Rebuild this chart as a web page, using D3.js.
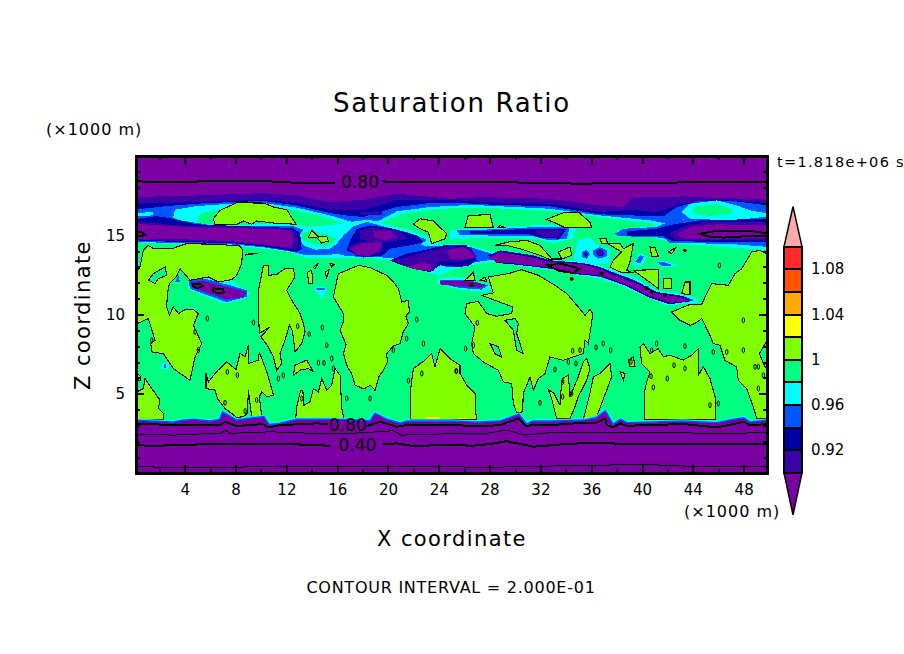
<!DOCTYPE html>
<html><head><meta charset="UTF-8"><title>Saturation Ratio</title>
<script src="https://d3js.org/d3.v7.min.js"></script>
<style>
body { margin: 0; background: #fff; }
text { font-family: "DejaVu Sans", sans-serif; fill: #000; }
.area { shape-rendering: crispEdges; }
.lime { fill: #80ff00; stroke: #000; stroke-width: 1.1; shape-rendering: crispEdges; }
.hole { fill: #00ff80; stroke: #000; stroke-width: 1.1; shape-rendering: crispEdges; }
.contour { fill: none; stroke: #000; shape-rendering: crispEdges; }
.axis path, .axis line { stroke: #000; shape-rendering: crispEdges; }
.axis .domain { stroke-width: 2.5; }
.axis line { stroke-width: 2; }
.axis .minor line { stroke-width: 1.2; }
.axis text { font-size: 15px; }
</style></head>
<body><div id="chart"></div>
<script>
// colour table of the contour levels
const levels = [0.90, 0.92, 0.94, 0.96, 0.98, 1.00, 1.02, 1.04, 1.06, 1.08, 1.10];
const levelColors = ["#3b00a8", "#0000a8", "#0055ff", "#00ffff", "#00ff80", "#80ff00", "#ffff00", "#ffaa00", "#ff5500", "#ff2a2a"];
const underColor = "#7b00a3", overColor = "#ffaaaa";
const colorLabels = [0.92, 0.96, 1, 1.04, 1.08];
const xTicks = [4, 8, 12, 16, 20, 24, 28, 32, 36, 40, 44, 48];
const xMinor = [2, 6, 10, 14, 18, 22, 26, 30, 34, 38, 42, 46];
const zTicks = [5, 10, 15];
const zMinor = [1, 2, 3, 4, 6, 7, 8, 9, 11, 12, 13, 14, 16, 17, 18, 19];

// top edges (x km, z km) of the levels in the upper cloud layer
const top090 = [[0,17.41],[4.94,17.51],[10.19,17.66],[12.81,17.51],[15.44,17.09],[18.06,17.24],[20.69,17.62],[24.88,17.3],[27.5,17.41],[32.75,17.3],[36.7,16.88],[38.5,16.78],[39.3,17.37],[43.25,17.45],[50,17.24]];
const top092 = [[0,16.99],[4.94,17.09],[10.19,17.24],[12.81,17.03],[15.44,16.61],[18.06,16.61],[20.69,17.2],[25.67,17.2],[27.5,17.09],[32.75,16.99],[36.69,16.46],[39.32,16.61],[41.15,16.46],[43.25,16.99],[45.88,17.24],[50,17.03]];
const top094 = [[0,16.61],[2.31,16.82],[4.94,16.99],[7.56,17.09],[10.19,17.16],[12.81,16.88],[15.44,16.4],[16.75,16.25],[18.06,16.15],[20.69,16.78],[23.31,17.03],[25.67,17.03],[27.5,16.95],[32.75,16.82],[36.69,16.32],[39.32,16.25],[41.68,16.19],[42.73,16.78],[44.56,17.16],[47.19,17.16],[50,16.88]];
const top096 = [[0,15.31],[2.84,15.31],[3.23,16.61],[4.94,16.84],[7.56,16.99],[10.19,17.03],[12.81,16.74],[15.44,16.25],[16.99,15.88],[18.06,15.69],[19.38,15.94],[20.69,16.51],[23.31,16.78],[25.67,16.88],[27.5,16.88],[32.75,16.67],[36.69,16.25],[40.63,15.94],[42.2,15.69],[43,15.62],[43.25,14.68],[50,14.26]];
const top098 = [[0,15],[4.6,15],[5.2,16.36],[7.56,16.82],[10.19,16.88],[12.81,16.57],[15.44,16.04],[16.75,15.62],[18.06,15.31],[20.2,16.04],[21.2,16.36],[23.31,16.61],[25.67,16.74],[27.5,16.74],[32.75,16.53],[36.69,16.15],[40.63,15.77],[42.2,15.48],[42.73,14.47],[50,14.05]];

// low-value bands cutting through the cloud, one list per level
const band096 = [
  [[2.84,16.15],[4.41,15.77],[7.56,15.6],[10.19,15.73],[12.81,15.69],[13.6,15.52],[15.96,15.69],[17.54,15.9],[18.59,15.98],[19.51,15.73],[21.74,15.31],[22.79,14.99],[23.31,14.85],[24.36,14.36],[24.88,14.47],[26.45,14.36],[28.29,13.94],[30.92,13.63],[32.75,13.46],[35.38,13.31],[36.69,13.1],[37.48,12.89],[39.32,12.37],[41.15,11.53],[43.25,11.27],[44.43,11],[44.43,10.73],[41.94,10.58],[40.37,11.11],[38.53,11.74],[36.69,12.26],[35.12,12.47],[32.75,12.83],[30.13,13.1],[28.29,13.31],[26.45,13.1],[24.88,12.79],[24.1,12.47],[23.31,12.62],[20.69,13.25],[19.38,13.52],[16.75,13.59],[13.6,13.59],[12.29,13.94],[10.19,14.15],[7.56,14.36],[3.63,14.43],[0,14.57],[0,16]],
  [[24.88,15.31],[27.5,15.52],[31.44,15.62],[34.85,15.62],[34.59,14.78],[33.02,14.51],[31.7,14.78],[27.5,14.85],[24.88,14.72]],
  [[34.98,14.68],[35.9,14.85],[36.69,14.26],[37.48,14.15],[37.43,13.21],[35.9,13.1],[34.59,13.42]],
  [[43.12,16.46],[43.78,16.99],[45.88,17.2],[47.45,16.88],[48.5,16.57],[50,16.36],[50,16.04],[47.19,15.98],[43.78,16.04]],
  [[38,15.31],[40.63,15.56],[42.2,15.83],[43.25,16],[45.88,16.15],[50,16.25],[50,14.57],[43.25,14.57],[41.68,14.68],[40.63,14.93],[38,14.99]],
  [[23.83,12.26],[25.67,12.37],[28.29,11.74],[27.77,11.42],[25.67,11.57],[23.83,11.95]],
  [[4.28,12.26],[5.6,12.41],[7.56,12.26],[8.22,11.84],[9.14,11.32],[8.61,10.9],[7.17,10.69],[5.86,11.06],[4.28,11.63]],
  [[14.13,11.74],[15.05,11.74],[15.18,11.53],[14.78,11.11],[15.7,11.11],[14.78,11],[14.39,11.32]],
  [[39.2,13.1],[39.84,13.85],[40.4,13.67],[40,13.05]],
  [[41,13.4],[41.68,13.4],[42.9,13.06],[41.55,12.98]],
  [[2.15,6.95],[2.75,6.95],[2.75,6.55],[2.15,6.55]],
  [[0,16.35],[1.5,16.5],[1.5,16.25],[0,16.2]]
];
const greenLens = [
  [[43.91,16.57],[44.3,16.82],[45.88,16.95],[47.19,16.61],[46.93,16.32],[45.35,16.21],[44.3,16.32]],
  [[13.08,15.1],[13.86,15.31],[15.44,14.99],[15.96,14.78],[15.44,14.36],[14.39,14.36],[13.34,14.68]]
];
const band094 = [
  [[0,16.15],[2.31,16.32],[3.63,15.94],[6.25,15.62],[7.56,15.48],[10.19,15.6],[12.55,15.56],[13.34,15.35],[12.94,14.89],[13.34,14.36],[14.26,14.09],[15.44,14.15],[15.96,14.47],[16.49,14.99],[17.28,15.56],[18.33,15.85],[19.38,15.62],[21.74,15.14],[23.05,14.72],[22.53,14.36],[24.88,14.3],[26.45,14.26],[28.29,13.8],[30.92,13.48],[32.75,13.31],[35.38,13.21],[36.69,13],[37.48,12.74],[39.32,12.2],[41.15,11.36],[43.25,11.15],[44.17,10.9],[41.94,10.69],[40.37,11.23],[38.53,11.88],[36.69,12.37],[35.12,12.58],[32.75,12.96],[30.13,13.21],[28.29,13.46],[26.45,13.25],[24.88,12.96],[24.1,13.1],[23.31,12.89],[20.69,13.52],[19.11,13.63],[16.75,13.67],[15.96,13.84],[15.18,13.73],[13.6,13.73],[12.29,13.98],[10.19,14.24],[7.56,14.43],[3.63,14.49],[0,14.59]],
  [[25.4,15.31],[27.5,15.35],[31.7,15.52],[34.33,15.56],[34.07,14.78],[32.75,14.68],[31.44,14.93],[27.5,14.99],[25.67,14.99]],
  [[37.87,15.1],[38.53,15.41],[41.15,15.52],[42.2,15.88],[43.78,16.04],[47.19,15.94],[50,16.19],[50,14.43],[45.88,14.47],[42.2,14.51],[41.68,14.85],[39.58,14.89],[38,14.99]],
  [[24.09,12.2],[26.2,12.2],[27.9,11.84],[27.37,11.57],[25.67,11.67],[24.09,11.95]],
  [[4.28,12.16],[5.6,12.26],[7.56,11.84],[8.88,11.53],[8.88,11.11],[7.3,10.79],[5.99,11.15],[4.41,11.63]],
  [[35.25,13.94],[35.64,14.09],[35.9,13.8],[35.64,13.52],[35.25,13.63]],
  [[36.17,14.05],[36.69,14.26],[37.22,14.05],[37.22,13.67],[36.56,13.52],[36.17,13.73]],
  [[39.45,13.31],[39.84,13.73],[40.16,13.67],[39.84,13.21]],
  [[41.15,13.31],[41.68,13.31],[42.47,13.1],[41.55,13.06]],
  [[14.26,11.7],[15.05,11.7],[15.05,11.57],[14.39,11.57]],
  [[3.23,12.05],[3.5,12.47],[3.63,12.05]],
  [[2.35,6.9],[2.55,6.9],[2.55,6.65],[2.35,6.65]]
];
const band092 = [
  [[0,16],[1.79,16.21],[3.1,16.04],[4.94,15.69],[10.19,15.52],[12.55,15.46],[13.08,15.1],[13.21,14.15],[12.81,13.94],[10.19,14.3],[7.56,14.51],[3.63,14.57],[0,14.68]],
  [[17.54,15.41],[18.59,15.62],[20.42,15.41],[22.26,14.99],[22.79,14.57],[21.74,14.36],[20.16,14.15],[19.64,13.73],[18.06,13.59],[16.75,14.05],[17.01,14.68]],
  [[20.16,13.42],[21.47,13.84],[22.79,14.05],[24.36,14.36],[26.2,14.36],[27,13.42],[26.45,13.1],[25.67,13],[24.1,13.1],[23.31,12.68],[22,12.89],[20.69,13.21]],
  [[27.9,13.73],[28.82,14.05],[31.44,13.73],[32.75,13.42],[35.38,13.25],[36.69,13],[37.48,12.74],[39.58,12.09],[41.15,11.42],[43.25,11.17],[43.91,10.85],[42.2,10.64],[40.63,11.04],[38.79,11.78],[36.69,12.41],[35.12,12.51],[32.75,12.89],[30.13,13.14],[28.55,13.25]],
  [[26.45,15.24],[31.44,15.41],[34.07,15.41],[33.54,14.78],[31.97,14.85],[30.92,15.1],[26.45,15.06]],
  [[38.79,15.24],[41.15,15.41],[42.47,15.69],[44.56,15.94],[50,16.04],[50,14.57],[45.88,14.57],[42.33,14.64],[41.68,14.93],[38.79,14.93]]
];
const band090 = [
  [[17.8,16.46],[19.5,16.46],[19.5,16.25],[17.9,16.25]],
  [[0,15.88],[3.63,15.62],[7.56,15.56],[12.03,15.46],[12.81,15.2],[12.94,14.36],[12.68,14.09],[10.19,14.36],[7.56,14.57],[3.63,14.63],[0,14.72]],
  [[17.8,15.31],[18.85,15.48],[20.95,15.27],[21.47,14.78],[20.16,14.57],[19.11,14.47],[17.8,14.78]],
  [[16.75,14.26],[17.8,14.57],[19.64,14.63],[19.64,14.05],[18.59,13.67],[17.54,13.67]],
  [[20.42,13.38],[22,13.73],[23.31,14.05],[24.88,14.3],[26.45,14.26],[27,13.63],[25.67,13.31],[24.1,13.38],[23.57,12.74],[22,12.96]],
  [[31.57,15.35],[33.8,15.35],[33.28,14.85],[32.36,14.89],[31.7,15.1]],
  [[42.33,15.2],[43.78,15.69],[45.88,15.83],[50,15.83],[50,14.68],[45.35,14.68],[42.73,14.68],[42.2,14.99]],
  [[36.35,13.94],[36.69,14.13],[37.03,13.94],[36.95,13.73],[36.56,13.67]],
  [[35.4,13.85],[35.6,13.95],[35.75,13.8],[35.55,13.65]]
];
const bandUnder = [
  [[0,15.73],[4.94,15.48],[10.19,15.41],[12.03,15.35],[12.55,15.1],[12.55,14.57],[12.29,14.22],[10.19,14.4],[7.56,14.63],[4.94,14.72],[2.31,14.78],[1,14.72],[0,14.78]],
  [[18.85,15.24],[20.16,15.31],[20.69,14.85],[19.64,14.68],[18.98,14.85]],
  [[17.01,14.15],[18.06,14.51],[19.51,14.57],[19.38,14.05],[18.59,13.71],[17.54,13.73]],
  [[21.47,13],[22.79,13.31],[23.44,13.1],[23.31,12.74],[22.26,12.83]],
  [[24.62,14.05],[25.94,14.26],[27,13.63],[25.94,13.46],[24.88,13.52]],
  [[27.9,13.59],[28.82,13.94],[31.44,13.59],[32.75,13.31],[35.38,13.17],[36.69,12.89],[37.48,12.58],[39.58,11.95],[41.15,11.32],[43.25,11.06],[43.78,10.85],[42.2,10.73],[40.63,11.15],[38.79,11.88],[36.69,12.47],[35.12,12.58],[32.75,12.96],[30.13,13.21],[28.55,13.31]],
  [[42.73,15.1],[44.04,15.56],[45.88,15.69],[50,15.62],[50,14.85],[45.88,14.78],[43.25,14.78]],
  [[24.09,12.11],[26.2,12.11],[27.64,11.9],[27.24,11.69],[25.67,11.78],[24.09,11.9]],
  [[4.41,12.05],[5.46,12.11],[7.3,11.74],[8.88,11.42],[8.61,11.11],[7.3,10.94],[5.99,11.32],[4.68,11.69]]
];

// supersaturated cells, contour 1.00
const above100 = [
  [[6.25,16.04],[6.78,16.57],[8.09,17.05],[10.19,17.03],[10.98,16.78],[12.03,16.61],[12.76,15.69],[10.98,15.77],[9.66,15.9],[9.27,15.69],[8.61,15.9],[8.09,15.69],[6.38,15.69]],
  [[22,15.69],[22.53,16.04],[23.57,15.9],[24.62,15.1],[24.49,14.78],[23.44,14.47],[23.18,15.2],[22.53,15.41]],
  [[13.73,14.85],[14,15.31],[14.52,14.89],[15.18,14.93],[15.31,14.64],[14.78,14.51],[14.39,14.85]],
  [[0,12.47],[0.48,13],[0.74,14.05],[1.13,14.36],[1.53,14.15],[2.97,14.15],[4.15,14.47],[6.51,14.43],[8.35,14.32],[8.56,14.05],[8.48,13.21],[8.09,12.47],[7.7,12.2],[6.65,12.05],[5.86,12.37],[4.41,12.16],[4.02,12.53],[3.63,12.89],[3.36,12.41],[2.79,11.95],[2.63,11.32],[2.58,10.48],[2.79,9.95],[3.1,10.48],[3.5,10.06],[4.02,10.31],[4.68,10.31],[5.07,10.06],[4.68,9.32],[5.33,8.17],[4.81,7.32],[4.41,5.85],[3.1,6.59],[2.31,7.53],[1.4,7.64],[1.32,8.17],[1.66,8.38],[1.13,9.74],[0.27,9.43],[0,9.53]],
  [[0,5.02],[0.74,5.33],[0.87,5.96],[1.4,5.33],[2.05,4.6],[1.92,4.07],[2.31,3.76],[2.31,3.38],[0,3.38]],
  [[0,6.5],[0.5,6.1],[0.5,5.85],[0,5.9]],
  [[5.67,6.28],[5.86,5.75],[6.57,6.45],[7.3,7.01],[8.04,6.53],[8.35,7.54],[8.75,7.33],[9.01,8.06],[9.01,6.91],[9.8,7.12],[9.87,7.64],[10.5,6.28],[10.98,4.91],[10.45,4.81],[10.06,5.12],[9.87,4.81],[10.06,3.59],[9.27,3.55],[9.01,5.23],[8.93,3.76],[8.61,3.55],[8.09,3.51],[7.17,4.07],[6.57,4.7],[6.38,5.23],[5.67,5.33]],
  [[9.8,11.53],[10.19,13.1],[10.58,13.1],[10.58,12.47],[11.24,12.53],[11.89,12.89],[12.55,12.89],[12.68,12.37],[12.03,11.53],[12.42,10.9],[13.08,10.06],[13.34,9.43],[13.47,8.9],[13.21,8.17],[12.68,7.64],[12.47,9],[12.24,9.32],[11.89,8.38],[11.5,7.53],[11.63,6.9],[11.24,6.48],[10.98,7.32],[10.5,8.06],[9.98,8.59],[10.71,9.22],[9.87,8.8],[9.8,10.27]],
  [[12.73,3.38],[12.81,4.18],[13.13,5.23],[13.29,5.23],[13.39,4.28],[13.86,4.49],[14.13,5.33],[14.52,5.12],[14.78,5.96],[15.18,5.23],[15.57,5.54],[15.83,6.59],[16.23,6.17],[16.36,4.07],[16.54,3.38]],
  [[12.55,6.17],[12.68,6.8],[13.6,7.12],[14.13,6.38],[13.73,6.59],[13.08,6.49],[12.76,6.28]],
  [[15.7,11.11],[16.09,12.58],[16.75,12.79],[17.67,13.1],[18.59,12.96],[19.9,12.47],[20.42,12.05],[20.82,11.63],[21.08,10.79],[21.61,10.9],[21.68,10.16],[21.4,9.9],[21.61,9.43],[21.2,8.9],[20.95,8.17],[20.4,8],[19.9,7.53],[19.95,7],[19.64,6.48],[19.3,6.1],[18.98,5.22],[18.59,5.54],[18.1,5.3],[17.41,5.54],[17.14,6.27],[16.8,6.7],[16.49,7.53],[16.7,8.1],[16.23,9],[16.5,9.6],[16.49,10.06],[16.17,10.48]],
  [[21.74,3.38],[21.74,5.02],[22,6.59],[22.92,7.12],[23.44,7.54],[23.7,6.7],[24.1,7.85],[24.49,7.54],[24.88,7.22],[25.67,6.8],[25.67,6.28],[26.2,5.54],[26.86,5.02],[26.86,4.07],[26.99,3.38]],
  [[26.06,10.06],[26.19,10.69],[27.11,10.83],[27.77,10.06],[28.55,9.89],[29.74,10.06],[29.81,10.48],[27.37,11.21],[28.29,11.36],[27.9,12.37],[29.47,12.58],[30.52,12.83],[31.84,12.47],[33.15,11.84],[34.07,11.32],[34.98,10.48],[35.51,9.95],[35.9,10.31],[36.11,10.06],[36.03,9.43],[35.77,8.17],[35.51,8.38],[35.38,7.53],[33.8,7.11],[32.75,7.32],[32.36,6.27],[31.84,5.96],[31.44,5.22],[31.18,6.06],[30.65,5.01],[30.6,3.86],[30.13,3.8],[29.87,4.38],[29.74,5.64],[29.08,5.75],[28.69,6.48],[27.5,7.01],[26.72,7.53],[26.59,8.17],[26.85,9.22]],
  [[42.33,10.16],[43.78,10.64],[44.7,10.64],[45.09,11.32],[45.48,11.95],[46.8,11.84],[47.32,12.58],[47.85,12.89],[48.63,13.94],[49.29,14.05],[50,13.73],[50,8.59],[49.24,7.53],[49.68,6.69],[50,6.69],[50,3.44],[49.03,3.44],[48.76,4.17],[48.24,5.33],[47.58,5.85],[47.45,6.69],[46.53,7.11],[46.14,8.06],[45.61,8.17],[45.35,8.69],[44.7,9.74],[44.17,9.43],[43.78,9.32],[42.99,9.64]],
  [[40.23,3.38],[40.23,5.23],[40.37,5.75],[40.63,6.38],[39.97,6.91],[39.84,7.96],[40.1,8.17],[40.63,7.54],[41.28,7.85],[41.68,7.33],[42.2,7.43],[43.25,7.12],[43.91,7.43],[44.43,7.85],[44.43,6.17],[44.83,6.7],[45.35,5.96],[45.75,4.81],[45.75,3.38]],
  [[38.27,6.38],[38.66,6.28],[38.53,5.86]],
  [[38.92,7.12],[39.32,7.33],[39.45,6.7],[39.05,6.7]],
  [[33.28,3.44],[32.88,4.7],[32.62,5.27],[33.07,5.02],[33.54,4.28],[33.62,5.23],[33.75,5.96],[34.2,6.17],[34.33,4.81],[34.98,6.07],[35.38,7.01],[35.64,7.22],[35.9,6.59],[35.64,5.86],[34.98,4.81],[34.72,4.18],[34.33,3.44]],
  [[35.38,3.38],[35.9,5.02],[36.17,6.07],[36.69,6.28],[37.48,6.91],[37.61,6.07],[37.22,5.23],[36.43,3.55]],
  [[26.06,15.48],[26.32,16.25],[28.03,16.3],[28.29,15.48]],
  [[28.63,15.48],[28.82,15.6],[29.26,15.48]],
  [[32.49,16],[33.94,16.46],[34.98,16.46],[35.9,15.83],[36.03,15.48],[33.94,15.48],[33.02,15.83]],
  [[28.42,14.36],[29.47,14.57],[30.92,14.68],[31.97,14.36],[32.89,13.52],[33.67,13.52],[33.41,13.94],[34.33,14.26],[34.46,13.73],[33.54,13.46],[32.75,13.46],[31.97,13.73],[30.39,14.15],[29.34,14.36]],
  [[36.69,14.78],[37.22,14.78],[37.27,14.47],[36.82,14.51]],
  [[37.22,14.51],[38.27,14.47],[38.53,14.15],[39.32,14.47],[39.05,13.31],[38.79,12.79],[39.32,12.62],[38.27,12.68],[37.48,13],[37.74,13.42],[38.4,13.94]],
  [[39.32,12.79],[41.28,12.83],[41.28,11.63],[40.76,11.95]],
  [[40.63,14.26],[41.02,14.22],[41.28,13.67],[40.76,13.67]],
  [[42.07,13.94],[42.73,14.26],[42.33,13.84]],
  [[43.25,14.11],[43.52,14.05],[43.38,13.94]],
  [[41.68,12.26],[42.33,12.26],[42.33,11.63],[41.68,11.63]],
  [[43.12,11.32],[43.38,12.05],[43.78,12.05],[43.78,11.25]],
  [[26.06,12.16],[26.72,12.68],[26.85,12.16]],
  [[27.24,12.16],[27.64,12.37],[27.77,12.09]],
  [[14.13,12.96],[14.52,13.25],[14.26,12.89]],
  [[15.44,13.21],[15.78,13.17],[15.57,13]],
  [[15.05,12.68],[15.36,12.83],[15.18,12.3]],
  [[13.68,12.68],[14,12.79],[14.07,11.95],[13.73,11.95]],
  [[8.75,13.8],[9.8,13.87],[8.75,13.75]]
];
const below100 = [
  [[1.13,12.16],[1.53,12.58],[2.45,13],[2.58,12.47],[1.92,12.26],[1.66,11.95]],
  [[29.21,9.64],[30,9.74],[30.26,9.43],[30.13,8.8],[30.39,8.17],[30.65,7.53],[30.13,7.75],[29.87,9]],
  [[28.03,8.17],[28.69,7.96],[28.95,7.32],[28.42,7.53]]
];
// very small closed 1.00 contours
const specks = [[5.78,9.75],[4.81,8.9],[9.4,9.49],[12.89,9.26],[13.79,8.76],[14.83,9.18],[15.18,8.06],[14.52,6.95],[14.97,6.95],[15.57,7.22],[15.7,6.59],[16.75,4.7],[18.59,4.7],[7.17,4.43],[8.75,3.9],[9.66,4.6],[20.42,7.75],[21.47,8.48],[22.79,8.17],[22.26,9.68],[22.66,6.28],[25.36,6.43],[21.61,5.82],[7.35,6.38],[8.14,6.17],[11.76,6.17],[11.37,5.96],[13.21,4.7],[5.07,7.75],[1.4,8.38],[27.03,9.47],[25.4,6.43],[26.72,8.06],[26.11,7.85],[34.54,7.71],[35.12,7.75],[36.38,7.92],[37.53,7.75],[36.95,8.17],[34.2,7.01],[34.8,6.91],[33.15,6.53],[33.75,5.75],[33.75,4.81],[34.46,5.02],[40.76,7.75],[41.15,8.17],[43.38,8],[45.61,7.64],[47.98,7.75],[46.67,7.64],[49.16,6.7],[48.9,6.7],[49.55,6.17],[49.16,5.33],[40.89,5.4],[45.35,4.28],[46.01,4.39],[31.97,4.43],[40.71,6.11],[41.99,5.96],[42.52,6.8],[43.38,6.6],[39.13,7.01],[46.09,13.1],[47.98,9.64]];
const yellowPatches = [[[22.92,3.4],[24.1,3.4],[24.1,3.52],[22.92,3.52]],[[25.5,3.38],[26.2,3.38],[26.2,3.48],[25.5,3.48]]];

// ground-side edge of the dry layer
const surface = [[0,3.29],[3.1,3.17],[3.9,3.29],[4.7,3.34],[6,3.23],[6.8,3.34],[7,3.8],[7.6,3.51],[8.1,3.29],[9.4,3.44],[10.2,3.51],[10.6,3.02],[11.5,3.09],[12.8,3.34],[15.4,3.34],[17.8,3.29],[18.6,3.23],[19,3.71],[19.9,3.34],[21,3.09],[21.5,3.23],[24.9,3.23],[27,3.17],[28.8,3.23],[30.3,3.65],[30.9,3.02],[31.4,3.23],[32.8,3.23],[35.4,3.29],[36.4,3.44],[37.1,3.86],[37.7,3.02],[38.3,3.34],[38.8,3.13],[43.25,3.23],[45.9,3.13],[47.2,3.34],[48,3.44],[48.5,3.17],[50,3.29]];

// line contours, null is a gap for the label
const line08Top = [[0,18.4],[3.4,18.35],[6.25,18.42],[10.2,18.42],[12.8,18.31],[15.8,18.29],null,[19.5,18.42],[20.4,18.33],[25,18.33],[30.1,18.33],[35.4,18.25],[38,18.31],[43.25,18.33],[50,18.33]];
const line08Low = [[0,3.13],[3.1,3.02],[6.78,3.02],[7.17,3.23],[8.09,2.96],[10.19,3.09],[10.58,2.88],[11.5,3.02],[14.39,3.13],[15.3,3.09],null,[18.33,2.96],[18.98,3.13],[19.38,3.23],[20.69,2.92],[21.47,3.02],[24.88,3.02],[27.5,2.96],[28.82,3.02],[30.26,3.44],[30.92,2.92],[31.44,3.06],[32.75,3.02],[35.38,3.17],[36.3,3.13],[37.09,3.44],[37.22,3.02],[37.74,2.88],[38.27,3.13],[38.79,2.98],[43.25,3.09],[45.88,2.88],[47.19,3.09],[47.98,3.23],[48.5,3.02],[50,3.09]];
const line06 = [[0,2.46],[3.1,2.39],[6.25,2.5],[6.78,2.46],[7.17,2.71],[7.56,2.5],[10.71,2.6],[12.81,2.54],[15.44,2.46],[18.06,2.54],[20.42,2.67],[21.08,2.39],[25.67,2.5],[27.5,2.46],[29.34,2.71],[30.79,2.39],[32.75,2.54],[38,2.56],[43.25,2.54],[46.4,2.46],[50,2.58]];
const line04 = [[0,1.8],[1,1.72],[4.68,1.76],[5.2,1.85],[10.19,1.83],[12.03,1.83],[15.44,1.72],null,[19.64,1.8],[20.69,1.87],[22,1.7],[25.67,1.8],[26.45,1.7],[28.03,1.83],[29.34,2.01],[31.44,1.66],[34.07,1.83],[36.17,1.91],[38.79,1.83],[43.25,1.8],[50,1.83]];
const line02 = [[0,0.4],[4.94,0.33],[10.19,0.4],[15.44,0.44],[20.69,0.4],[24.88,0.4],[27.5,0.35],[32.75,0.44],[40.1,0.54],[43.25,0.44],[50,0.4]];
const ring08 = [
  [[44.56,15.1],[45.88,15.27],[48.5,15.27],[50,15.1],[50,14.93],[48,14.93],[46.4,14.85],[45.09,14.93]],
  [[32.49,13.14],[33.8,13.17],[35.12,12.89],[34.59,12.62],[33.54,12.74],[32.88,12.96]],
  [[4.6,11.95],[5.2,11.95],[5.4,11.8],[5,11.65],[4.7,11.75]],
  [[6.2,11.65],[7,11.6],[7.1,11.4],[6.6,11.35],[6.2,11.45]],
  [[0,15.2],[0.6,15.2],[0.9,15],[0,14.95]]
];
const dots08 = [[36.82,12.58],[40.37,11.67],[40.76,11.42],[41.81,11.25],[34.46,12.24],[26.59,11.88]];
const lineLabels = [["0.80",17.8,18.33],["0.80",16.85,3.02],["0.40",17.6,1.76]];

const width = 904, height = 654;
const svg = d3.select("#chart").append("svg").attr("width", width).attr("height", height);
const x = d3.scaleLinear().domain([0.16, 49.84]).range([136, 767]);
const z = d3.scaleLinear().domain([0, 20]).range([473, 156]);
const path = d3.line().defined(d => d).x(d => x(d[0])).y(d => z(d[1]));
const ring = pts => path(pts) + "Z";

svg.append("defs").append("clipPath").attr("id", "plot").append("rect")
    .attr("x", x.range()[0]).attr("y", z.range()[1])
    .attr("width", x.range()[1] - x.range()[0]).attr("height", z.range()[0] - z.range()[1]);
const plot = svg.append("g").attr("clip-path", "url(#plot)");

function fill(rings, color) {
    plot.append("g").attr("class", "area").selectAll("path").data(rings).enter().append("path")
        .attr("d", ring).attr("fill", color);
}
const below = edge => edge.concat([[50, 3], [0, 3]]);

plot.append("rect").attr("class", "area").attr("x", x(0)).attr("y", z(20))
    .attr("width", x(50) - x(0)).attr("height", z(0) - z(20)).attr("fill", underColor);
fill([below(top090)], levelColors[0]);
fill([below(top092)], levelColors[1]);
fill([below(top094)], levelColors[2]);
fill([below(top096)], levelColors[3]);
fill([below(top098)], levelColors[4]);
fill(band096, levelColors[3]);
fill(greenLens, levelColors[4]);
fill(band094, levelColors[2]);
fill(band092, levelColors[1]);
fill(band090, levelColors[0]);
fill(bandUnder, underColor);

plot.append("g").selectAll("path").data(above100).enter().append("path").attr("class", "lime").attr("d", ring);
plot.append("g").selectAll("path").data(below100).enter().append("path").attr("class", "hole").attr("d", ring);
plot.append("g").selectAll("ellipse").data(specks).enter().append("ellipse")
    .attr("cx", d => x(d[0])).attr("cy", d => z(d[1])).attr("rx", 1.2).attr("ry", 2.6)
    .attr("fill", "none").attr("stroke", "#000").attr("stroke-width", 1);

// bottom dry layer
plot.append("path").attr("d", path(surface)).attr("fill", "none").attr("stroke", levelColors[3]).attr("stroke-width", 5);
plot.append("path").attr("d", path(surface)).attr("fill", "none").attr("stroke", levelColors[2]).attr("stroke-width", 3);
fill(yellowPatches, levelColors[6]);
fill([surface.concat([[50, 0], [0, 0]])], underColor);

[[line08Top, 2], [line08Low, 2], [line06, 1], [line04, 2], [line02, 1]].forEach(([pts, w]) => {
    plot.append("path").attr("class", "contour").attr("d", path(pts)).attr("stroke-width", w);
});
plot.append("g").selectAll("path").data(ring08).enter().append("path")
    .attr("class", "contour").attr("d", ring).attr("stroke-width", 2);
plot.append("g").selectAll("circle").data(dots08).enter().append("circle")
    .attr("cx", d => x(d[0])).attr("cy", d => z(d[1])).attr("r", 2);
svg.append("g").selectAll("text").data(lineLabels).enter().append("text")
    .attr("x", d => x(d[1])).attr("y", d => z(d[2])).attr("text-anchor", "middle")
    .attr("dominant-baseline", "central").style("font-size", "17px").text(d => d[0]);

// axes with inward ticks on all four sides
function axis(gen, values, size, minor) {
    const g = svg.append("g").attr("class", "axis" + (minor ? " minor" : ""));
    g.call(gen.tickValues(values).tickSize(-size).tickPadding(minor ? 0 : 11));
    if (minor) g.selectAll("text").remove();
    return g;
}
const bottom = () => d3.axisBottom(x), topAxis = () => d3.axisTop(x).tickFormat("");
const left = () => d3.axisLeft(z), right = () => d3.axisRight(z).tickFormat("");
axis(bottom(), xMinor, 4, true).attr("transform", `translate(0,${z(0)})`);
axis(topAxis(), xMinor, 4, true).attr("transform", `translate(0,${z(20)})`);
axis(left(), zMinor, 4, true).attr("transform", `translate(${x.range()[0]},0)`);
axis(right(), zMinor, 4, true).attr("transform", `translate(${x.range()[1]},0)`);
axis(bottom(), xTicks, 8).attr("transform", `translate(0,${z(0)})`);
axis(topAxis(), xTicks, 8).attr("transform", `translate(0,${z(20)})`);
axis(left(), zTicks, 8).attr("transform", `translate(${x.range()[0]},0)`);
axis(right(), zTicks, 8).attr("transform", `translate(${x.range()[1]},0)`);

// colour bar
const cb = d3.scaleLinear().domain([0.90, 1.10]).range([473, 246.7]);
const cbLeft = 784, cbRight = 802, cbMid = 793;
const cbg = svg.append("g");
cbg.selectAll("rect").data(levelColors).enter().append("rect")
    .attr("x", cbLeft).attr("width", cbRight - cbLeft)
    .attr("y", (d, i) => cb(levels[i + 1])).attr("height", (d, i) => cb(levels[i]) - cb(levels[i + 1]))
    .attr("fill", d => d).attr("stroke", "#000").attr("stroke-width", 2).style("shape-rendering", "crispEdges");
cbg.append("path").attr("d", `M${cbLeft},${cb(1.10)}L${cbMid},${cb(1.1354)}L${cbRight},${cb(1.10)}Z`)
    .attr("fill", overColor).attr("stroke", "#000").attr("stroke-width", 1.5);
cbg.append("path").attr("d", `M${cbLeft},${cb(0.90)}L${cbMid},${cb(0.863)}L${cbRight},${cb(0.90)}Z`)
    .attr("fill", underColor).attr("stroke", "#000").attr("stroke-width", 1.5);
cbg.selectAll("text").data(colorLabels).enter().append("text")
    .attr("x", 811).attr("y", d => cb(d)).attr("dominant-baseline", "central")
    .style("font-size", "15px").text(d => d);

function label(text, px, py, size, anchor, spacing) {
    return svg.append("text").attr("x", px).attr("y", py).attr("text-anchor", anchor || "middle")
        .attr("dominant-baseline", "central").style("font-size", size + "px")
        .style("letter-spacing", (spacing || 0) + "px").text(text);
}
label("Saturation Ratio", 452, 103, 26, "middle", 1.7);
label("(×1000 m)", 46, 129, 16, "start", 1);
label("(×1000 m)", 684, 511, 16, "start", 1);
label("t=1.818e+06 s", 777, 162, 14.5, "start", 1.3);
label("X coordinate", 452, 539, 21, "middle", 1.4);
label("CONTOUR INTERVAL = 2.000E-01", 451, 587, 16, "middle", 0.75);
label("Z coordinate", 0, 0, 21, "middle", 1.4).attr("transform", "translate(83,315) rotate(-90)");
</script>
</body></html>
